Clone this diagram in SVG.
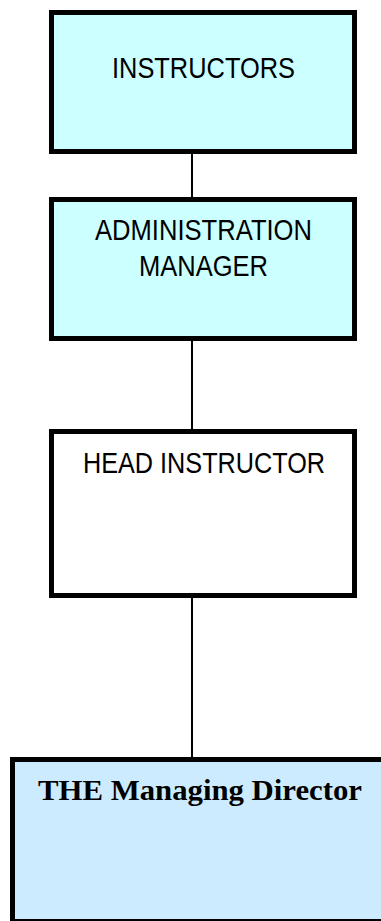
<svg xmlns="http://www.w3.org/2000/svg" width="381" height="921" viewBox="0 0 381 921">
<style>
.box{stroke:#000;stroke-width:5}
.t{font-family:"Liberation Sans",Arial,sans-serif;font-size:29px;fill:#000;text-anchor:middle}
.b{font-family:"Liberation Serif","Times New Roman",serif;font-size:30px;font-weight:bold;fill:#000;text-anchor:middle}
.c{stroke:#000;stroke-width:2;fill:none}
</style>
<rect width="381" height="921" fill="#fff"/>
<g id="connectors">
<line class="c" x1="192" y1="154" x2="192" y2="197"/>
<line class="c" x1="192" y1="341" x2="192" y2="429"/>
<line class="c" x1="192" y1="598" x2="192" y2="757"/>
</g>
<g id="instructors">
<rect class="box" x="51.5" y="12.5" width="303" height="139" fill="#CCFFFF"/>
<text class="t" x="203.5" y="78" textLength="183" lengthAdjust="spacingAndGlyphs">INSTRUCTORS</text>
</g>
<g id="admin-manager">
<rect class="box" x="51.5" y="199.5" width="303" height="139" fill="#CCFFFF"/>
<text class="t" x="203.5" y="240" textLength="217" lengthAdjust="spacingAndGlyphs">ADMINISTRATION</text>
<text class="t" x="203.5" y="276" textLength="129" lengthAdjust="spacingAndGlyphs">MANAGER</text>
</g>
<g id="head-instructor">
<rect class="box" x="51.5" y="431.5" width="303" height="164" fill="#FFFFFF"/>
<text class="t" x="204" y="473" textLength="242" lengthAdjust="spacingAndGlyphs">HEAD INSTRUCTOR</text>
</g>
<g id="managing-director">
<rect class="box" x="12.5" y="759.5" width="400" height="162" fill="#CCEBFF"/>
<text class="b" x="200" y="800" textLength="324" lengthAdjust="spacingAndGlyphs">THE Managing Director</text>
</g>
</svg>
